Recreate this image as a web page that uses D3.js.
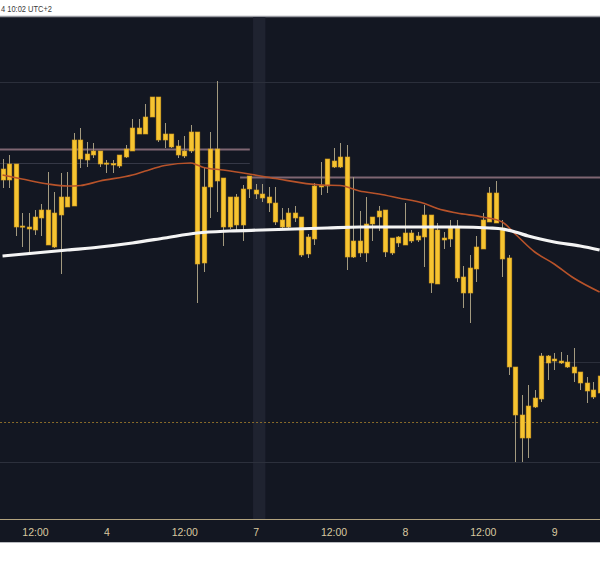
<!DOCTYPE html>
<html><head><meta charset="utf-8">
<script src="https://cdn.jsdelivr.net/npm/d3@7/dist/d3.min.js"></script>
<style>html,body{margin:0;padding:0;background:#fff;overflow:hidden}svg{display:block}</style>
</head><body><svg id="c" width="600" height="566"></svg>
<script>
// ---- data (hourly candles, index 0 = 12:00 of the first labelled day) ----
const firstIndex = -5;
const opens = [2683.1,2682.0,2683.6,2677.3,2677.3,2677.0,2678.2,2679.0,2675.3,2678.5,2680.3,2679.4,2686.0,2684.0,2684.5,2684.9,2683.6,2683.5,2683.4,2684.3,2684.9,2687.2,2686.6,2688.3,2690.3,2686.0,2686.6,2685.4,2684.4,2684.9,2686.8,2673.7,2681.3,2685.1,2682.2,2677.3,2680.3,2677.5,2681.1,2681.0,2680.6,2680.3,2679.7,2678.0,2677.3,2678.7,2678.3,2674.6,2676.1,2681.3,2681.4,2683.9,2683.3,2684.3,2674.3,2675.9,2674.7,2677.6,2678.3,2679.0,2674.7,2676.3,2675.5,2676.7,2676.0,2676.3,2678.5,2671.6,2676.0,2676.1,2677.2,2672.3,2670.7,2673.1,2675.1,2677.8,2680.7,2677.2,2674.2,2663.3,2658.5,2656.2,2659.3,2660.1,2664.4,2663.9,2663.9,2663.8,2663.3,2662.8,2661.7,2661.0,2660.7];
const highs = [2684.1,2684.5,2683.6,2678.7,2678.7,2679.0,2679.6,2682.8,2680.8,2682.7,2682.8,2686.7,2687.2,2685.8,2685.7,2684.9,2684.0,2684.0,2684.5,2685.5,2688.1,2688.1,2689.6,2690.3,2690.3,2687.7,2686.6,2686.0,2686.4,2687.5,2686.8,2683.3,2686.8,2691.9,2682.2,2680.3,2680.6,2681.5,2682.4,2681.6,2681.6,2681.3,2681.3,2679.2,2679.2,2679.4,2678.3,2676.6,2681.7,2683.8,2684.1,2685.2,2685.7,2685.5,2682.3,2678.9,2680.3,2678.3,2679.4,2679.0,2676.2,2676.4,2679.7,2677.0,2676.8,2679.5,2678.5,2677.7,2676.8,2678.0,2678.0,2673.4,2674.5,2676.4,2678.7,2681.3,2681.9,2678.0,2674.5,2663.3,2660.5,2661.5,2661.0,2664.7,2664.5,2664.7,2664.8,2664.5,2665.2,2662.8,2662.3,2661.8,2663.0];
const lows = [2681.2,2681.2,2676.4,2675.3,2674.8,2676.5,2676.4,2675.5,2675.2,2672.6,2679.3,2679.4,2683.2,2683.3,2684.2,2683.3,2682.7,2682.7,2683.2,2684.2,2684.9,2686.6,2686.6,2688.3,2685.8,2685.2,2685.2,2684.2,2684.2,2684.7,2669.7,2672.8,2678.2,2678.8,2675.4,2677.1,2677.0,2675.9,2680.2,2680.1,2679.8,2678.8,2677.5,2677.2,2677.2,2677.8,2674.3,2674.2,2675.5,2680.5,2680.7,2683.2,2683.2,2673.0,2674.2,2674.3,2673.8,2675.9,2676.9,2674.3,2674.5,2675.3,2675.5,2675.7,2675.8,2673.3,2670.7,2671.6,2675.1,2675.3,2671.8,2669.2,2667.7,2671.8,2675.1,2677.8,2677.7,2672.3,2662.5,2653.8,2653.8,2654.2,2659.2,2659.8,2662.0,2663.0,2663.6,2663.2,2661.8,2661.0,2659.7,2660.1,2660.5];
const closes = [2682.0,2683.6,2677.3,2677.4,2677.1,2678.3,2679.0,2675.5,2678.7,2680.3,2679.3,2686.0,2684.1,2684.6,2684.9,2683.6,2683.7,2683.65,2684.5,2685.1,2687.2,2686.6,2688.3,2690.3,2686.0,2686.6,2685.3,2684.5,2684.9,2686.8,2673.6,2681.3,2685.1,2681.9,2677.3,2680.3,2677.5,2681.1,2682.4,2680.6,2680.2,2679.7,2677.8,2677.3,2678.7,2678.2,2674.5,2676.3,2681.4,2681.5,2684.1,2683.3,2684.3,2674.3,2675.9,2674.7,2677.6,2678.3,2678.9,2674.8,2676.2,2675.7,2676.7,2675.9,2676.4,2678.5,2671.7,2677.0,2676.2,2677.2,2672.2,2670.7,2673.2,2675.3,2678.0,2680.7,2677.7,2674.1,2663.3,2658.5,2656.2,2659.4,2660.2,2664.4,2663.7,2664.1,2663.7,2663.3,2662.7,2661.7,2660.9,2660.3,2662.4];

const tickIndex = [0,11,23,34,46,57,69,80];
const tickLabels = ["12:00","4","12:00","7","12:00","8","12:00","9"];

// slow moving average (white)
const slowIdx = [-5,0,5,10,15,20,25,30,35,40,45,50,55,60,65,70,72,74,76,80,84,87];
const slowVal = [2674.4,2674.7,2675.0,2675.3,2675.7,2676.2,2676.7,2676.9,2677.0,2677.1,2677.2,2677.3,2677.3,2677.3,2677.3,2677.2,2677.1,2676.8,2676.4,2675.8,2675.4,2675.0];
// fast moving average (orange)
const fastIdx = [-5,-2,2,5,7,10,15,17,20,24,25,26,29,33,37,44,47,50,53,56,60,62,65,69,72,74,77,80,83,87];
const fastVal = [2682.5,2682.1,2681.6,2681.4,2681.45,2681.9,2682.5,2682.9,2683.45,2683.7,2683.5,2683.25,2683.0,2682.6,2682.15,2681.5,2681.45,2680.9,2680.6,2680.2,2679.65,2679.15,2678.7,2678.3,2677.8,2676.6,2674.8,2673.6,2672.2,2670.8];

// horizontal levels
const levelNames = ["top","pinkA","faintA","pinkB","mid","dotted","bottom"];
const levelPrice = [2691.83,2685.1,2683.67,2682.33,2663.83,2657.83,2653.8];
const levelFrom = [-6,-6,-6,31.6,78.3,-6,-6];
const levelTo = [88,33.1,33.1,88,88,88,88];

// highlighted session column
const bandFrom = 33.6, bandTo = 35.5;
const headerText = "4 10:02 UTC+2";

// ---- drawing ----
const W = 600, H = 566;
const plotTop = 17, plotBottom = 519, darkBottom = 542;
const svg = d3.select("#c");
const x = d3.scaleLinear().domain([0, 80]).range([35, 554.2]);
const y = d3.scaleLinear().domain([2648.1, 2698.3]).range([plotBottom, plotTop]);

svg.append("rect").attr("x",0).attr("y",0).attr("width",W).attr("height",H).attr("fill","#ffffff");
svg.append("rect").attr("x",0).attr("y",plotTop).attr("width",W).attr("height",darkBottom-plotTop).attr("fill","#131722");
svg.append("line").attr("x1",0).attr("x2",W).attr("y1",plotTop-0.5).attr("y2",plotTop-0.5).attr("stroke","#9a9ca3").attr("stroke-width",1.5);
svg.append("line").attr("x1",0).attr("x2",W).attr("y1",darkBottom+0.5).attr("y2",darkBottom+0.5).attr("stroke","#b9bbc0").attr("stroke-width",1);

svg.append("text").attr("x",1).attr("y",11.5).attr("text-anchor","start")
  .attr("font-family","'Liberation Sans', Arial, sans-serif").attr("font-size",9)
  .attr("textLength",51).attr("lengthAdjust","spacingAndGlyphs")
  .attr("fill","#3a3a3a").text(headerText);

const clip = svg.append("clipPath").attr("id","plotclip").append("rect")
  .attr("x",0).attr("y",plotTop).attr("width",W).attr("height",plotBottom-plotTop);
const g = svg.append("g").attr("clip-path","url(#plotclip)");

// band
g.append("rect").attr("x",x(bandFrom)).attr("y",plotTop).attr("width",x(bandTo)-x(bandFrom))
  .attr("height",plotBottom-plotTop).attr("fill","#1f2330");

const levelStyle = {
  top:{stroke:"#2b2f3b",w:1,dash:null},
  pinkA:{stroke:"#7f6672",w:2,dash:null},
  faintA:{stroke:"#353846",w:1,dash:null},
  pinkB:{stroke:"#7f6672",w:2,dash:null},
  mid:{stroke:"#2b2f3b",w:1,dash:null},
  dotted:{stroke:"#8a6c2a",w:1,dash:"2,2"},
  bottom:{stroke:"#2c303c",w:1,dash:null}
};
levelNames.forEach((n,i)=>{
  const s = levelStyle[n];
  const yy = Math.round(y(levelPrice[i]))+0.5;
  g.append("line").attr("x1",x(levelFrom[i])).attr("x2",x(levelTo[i]))
    .attr("y1",yy).attr("y2",yy).attr("stroke",s.stroke).attr("stroke-width",s.w)
    .attr("stroke-dasharray",s.dash);
});

// candles
const candles = opens.map((o,i)=>({i:firstIndex+i,o,h:highs[i],l:lows[i],c:closes[i]}));
const bodyW = 4.6;
const cg = g.append("g");
cg.selectAll("line.wick").data(candles).join("line").attr("class","wick")
  .attr("x1",d=>Math.round(x(d.i))+0.5).attr("x2",d=>Math.round(x(d.i))+0.5)
  .attr("y1",d=>y(d.h)).attr("y2",d=>y(d.l))
  .attr("stroke","#a39a7f").attr("stroke-width",1);
cg.selectAll("rect.body").data(candles).join("rect").attr("class","body")
  .attr("x",d=>Math.round(x(d.i))+0.5-bodyW/2).attr("width",bodyW)
  .attr("y",d=>y(Math.max(d.o,d.c)))
  .attr("height",d=>Math.max(1.2, Math.abs(y(d.o)-y(d.c))))
  .attr("fill","#f6c431").attr("stroke","#d9a020").attr("stroke-width",0.6);

// moving averages
const lineGen = d3.line().x(d=>x(d[0])).y(d=>y(d[1])).curve(d3.curveMonotoneX);
g.append("path").datum(fastIdx.map((k,i)=>[k,fastVal[i]])).attr("d",lineGen)
  .attr("fill","none").attr("stroke","#b8532a").attr("stroke-width",1.6);
g.append("path").datum(slowIdx.map((k,i)=>[k,slowVal[i]])).attr("d",lineGen)
  .attr("fill","none").attr("stroke","#f4f4f4").attr("stroke-width",3.2);

// x axis
svg.append("line").attr("x1",0).attr("x2",W).attr("y1",plotBottom+0.5).attr("y2",plotBottom+0.5)
  .attr("stroke","#b3a47f").attr("stroke-width",1);
const axis = d3.axisBottom(x).tickValues(tickIndex).tickFormat((d,i)=>tickLabels[i]).tickSize(0).tickPadding(0);
const ag = svg.append("g").attr("transform",`translate(0,${plotBottom+1})`).call(axis);
ag.select(".domain").remove();
ag.selectAll("text").attr("dy","15.5").attr("fill","#d9c9a0")
  .attr("font-family","'Liberation Sans', Arial, sans-serif").attr("font-size",10.5);
</script></body></html>
